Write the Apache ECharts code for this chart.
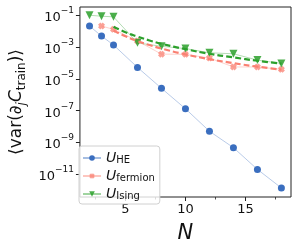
<!DOCTYPE html>
<html><head><meta charset="utf-8">
<script src="https://cdn.jsdelivr.net/npm/echarts@6/dist/echarts.min.js"></script>
<style>html,body{margin:0;padding:0;background:#fff}#c{width:299px;height:249px}</style>
</head><body><div id="c"></div>
<script>
// Data (variance values, log-scale y axis)
const nHE = [2, 3, 4, 6, 8, 10, 12, 14, 16, 18];
const varHE = [2.2e-2, 5.1e-3, 1.4e-3, 5.4e-5, 2.6e-6, 1.33e-7, 5.1e-9, 4.7e-10, 2.0e-11, 1.35e-12];
const nFermion = [3, 4, 6, 8, 10, 12, 14, 16, 18];
const varFermion = [2.19e-2, 1.35e-2, 2.5e-3, 3.7e-4, 3.6e-4, 2.1e-4, 5.75e-5, 5.75e-5, 4.07e-5];
const nIsing = [2, 3, 4, 6, 8, 10, 12, 14, 16, 18];
const varIsing = [1.05e-1, 9.1e-2, 8.3e-2, 1.9e-3, 1.15e-3, 8.3e-4, 4.5e-4, 3.9e-4, 1.55e-4, 9.5e-5];
// dashed fit curves
const nFit = [4, 5, 6, 7, 8, 10, 12, 14, 16, 18];
const fitIsing = [2.0e-2, 8.9e-3, 4.7e-3, 2.7e-3, 1.66e-3, 7.6e-4, 3.9e-4, 2.3e-4, 1.41e-4, 9.3e-5];
const fitFermion = [1.12e-2, 4.9e-3, 2.45e-3, 1.38e-3, 8.3e-4, 3.55e-4, 1.78e-4, 1.0e-4, 6.0e-5, 3.9e-5];
// tick labels
const xTickLabels = [5, 10, 15];
const xMinorTicks = [2.5, 7.5, 12.5, 17.5];
const yTickExponents = [-11, -9, -7, -5, -3, -1];
const seriesNames = ['HE', 'fermion', 'Ising'];

const pts = (xs, ys) => xs.map((x, i) => [x, Math.log10(ys[i])]);
const F = 'DejaVu Sans';
const cBlue = '#3a6ebf', cRed = '#fa8072', cGreen = '#2ca02c';
const X = 'path://M-1,-3 L0,-2 L1,-3 L3,-1 L2,0 L3,1 L1,3 L0,2 L-1,3 L-3,1 L-2,0 L-3,-1 Z';

const chart = echarts.init(document.getElementById('c'), null, {renderer: 'canvas'});
chart.setOption({
  animation: false,
  grid: {left: 77, right: 8, top: 7, bottom: 51, show: true, borderColor: '#222', borderWidth: 1, backgroundColor: 'transparent'},
  xAxis: [{
    type: 'value', min: 1.2, max: 18.8,
    axisLine: {show: false},
    splitLine: {show: false},
    axisTick: {show: true, customValues: xTickLabels, length: 4, inside: false, lineStyle: {color: '#222', width: 1}},
    axisLabel: {customValues: xTickLabels, fontFamily: F, fontSize: 13, color: '#111', margin: 6},
    name: 'N', nameLocation: 'middle', nameGap: 26,
    nameTextStyle: {fontFamily: F, fontSize: 21, fontStyle: 'italic', color: '#111'}
  }, {
    type: 'value', min: 1.2, max: 18.8, position: 'bottom',
    axisLine: {show: false}, splitLine: {show: false},
    axisTick: {show: true, customValues: xMinorTicks, length: 2.5, lineStyle: {color: '#222', width: 0.8}},
    axisLabel: {show: false}
  }],
  yAxis: {
    type: 'value', min: -12.44, max: -0.46,
    axisLine: {show: false}, splitLine: {show: false},
    axisTick: {show: true, customValues: yTickExponents, length: 4, lineStyle: {color: '#222', width: 1}},
    axisLabel: {
      customValues: yTickExponents, margin: 6,
      formatter: v => '{b|10}{s|\u2212' + (-v) + '}',
      rich: {
        b: {fontFamily: F, fontSize: 13, color: '#111', lineHeight: 18, verticalAlign: 'bottom'},
        s: {fontFamily: F, fontSize: 9, color: '#111', lineHeight: 18, verticalAlign: 'top'}
      }
    },
    name: '{t|\u27E8var(\u2202}{i|j}{c|C}{s|train}{t|)\u27E9}',
    nameLocation: 'middle', nameGap: 48, nameRotate: 90,
    nameTextStyle: {
      rich: {
        t: {fontFamily: F, fontSize: 17, color: '#111', lineHeight: 22, verticalAlign: 'middle'},
        c: {fontFamily: F, fontSize: 17, fontStyle: 'italic', color: '#111', lineHeight: 22, verticalAlign: 'middle'},
        i: {fontFamily: F, fontSize: 12, fontStyle: 'italic', color: '#111', lineHeight: 22, verticalAlign: 'bottom'},
        s: {fontFamily: F, fontSize: 12, color: '#111', lineHeight: 22, verticalAlign: 'bottom'}
      }
    }
  },
  legend: {
    data: seriesNames, orient: 'vertical', left: 79, top: 146,
    padding: [3, 5, 3, 3], itemGap: 2, itemWidth: 18, itemHeight: 7,
    borderColor: '#d0d0d0', borderWidth: 1, borderRadius: 3, backgroundColor: 'rgba(255,255,255,0.8)',
    formatter: n => '{u|U}{s|' + n + '}',
    textStyle: {
      rich: {
        u: {fontFamily: F, fontSize: 14, fontStyle: 'italic', color: '#111', lineHeight: 14, verticalAlign: 'middle'},
        s: {fontFamily: F, fontSize: 10, color: '#111', lineHeight: 14, verticalAlign: 'bottom', padding: [6, 0, 0, 0]}
      }
    }
  },
  series: [
    {name: 'HE', type: 'line', data: pts(nHE, varHE), symbol: 'circle', symbolSize: 7,
     lineStyle: {color: cBlue, width: 0.8, opacity: 0.45}, itemStyle: {color: cBlue}, z: 3},
    {name: 'fermion', type: 'line', data: pts(nFermion, varFermion), symbol: X, symbolSize: 7,
     lineStyle: {color: cRed, width: 0.8, opacity: 0.45}, itemStyle: {color: cRed, opacity: 0.75}, z: 3},
    {name: 'Ising', type: 'line', data: pts(nIsing, varIsing), symbol: 'triangle', symbolRotate: 180, symbolSize: 8,
     lineStyle: {color: cGreen, width: 0.8, opacity: 0.45}, itemStyle: {color: cGreen, opacity: 0.85}, z: 3},
    {name: 'fitFermion', type: 'line', data: pts(nFit, fitFermion), symbol: 'none', smooth: true,
     lineStyle: {color: cRed, width: 2.2, type: [6, 3]}, z: 4},
    {name: 'fitIsing', type: 'line', data: pts(nFit, fitIsing), symbol: 'none', smooth: true,
     lineStyle: {color: cGreen, width: 2.2, type: [6, 3]}, z: 4}
  ]
});
</script></body></html>
